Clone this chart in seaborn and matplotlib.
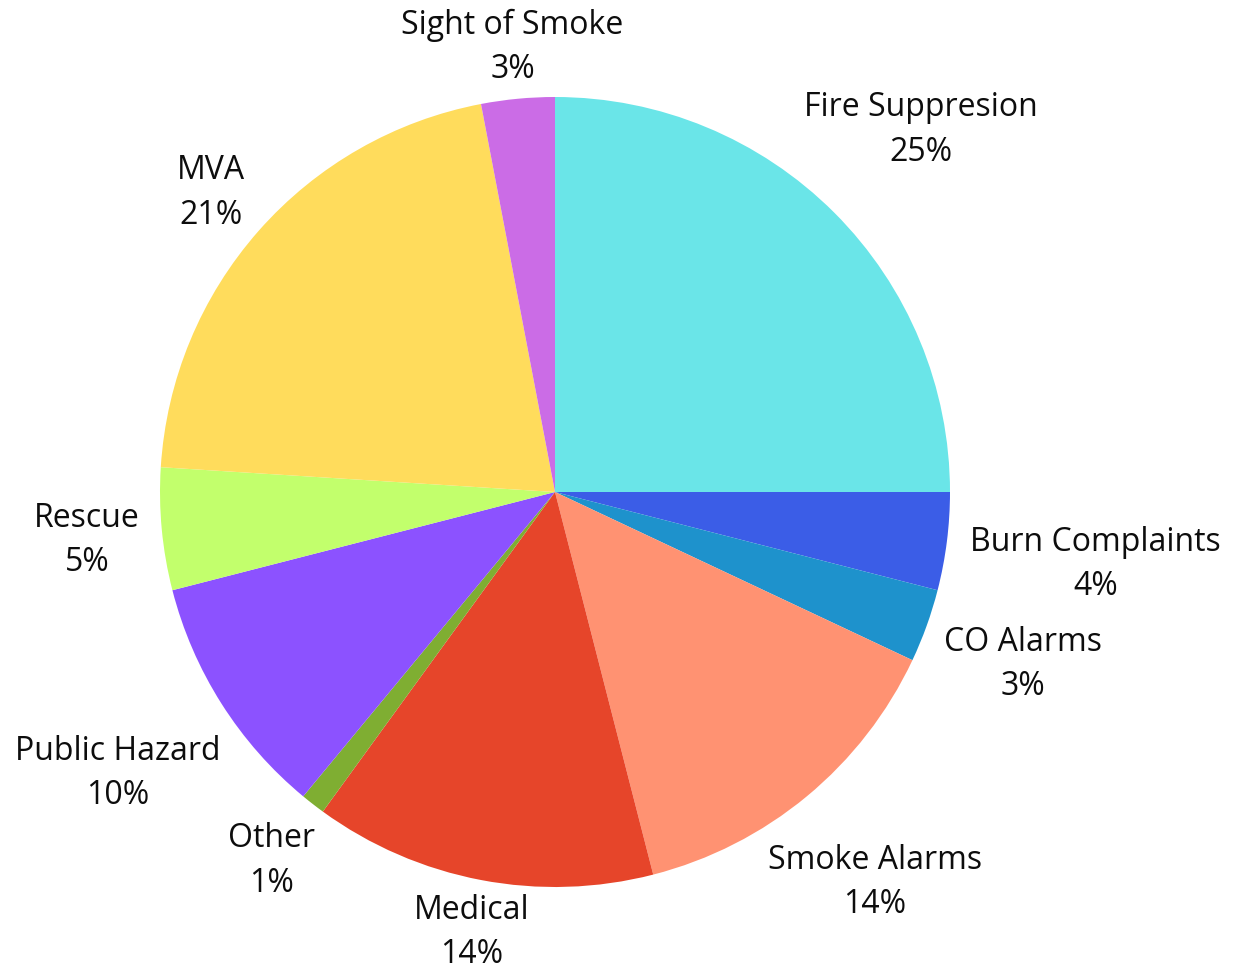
import matplotlib
matplotlib.use('Agg')
import matplotlib.pyplot as plt
import seaborn as sns
import numpy as np

# Данные
categories = ['Fire Suppresion', 'Burn Complaints', 'CO Alarms', 'Smoke Alarms', 'Medical',
              'Other', 'Public Hazard', 'Rescue', 'MVA', 'Sight of Smoke']
shares = [25, 4, 3, 14, 14, 1, 10, 5, 21, 3]
colors = ['#6ae5e8', '#3b5de7', '#1e92cc', '#ff9272', '#e6452a',
          '#7fae32', '#8c52ff', '#c2ff6c', '#ffdc5c', '#cb6ce6']

# Расстояние подписей от центра (в радиусах)
label_dist = [1.31, 1.38, 1.26, 1.27, 1.125, 1.17, 1.31, 1.19, 1.16, 1.14]

sns.set_style('white')
plt.rcParams['font.family'] = ['Open Sans', 'DejaVu Sans']

fig = plt.figure(figsize=(12.37, 9.73), dpi=100)
ax = fig.add_axes([0, 0, 1, 1])

wedges, _ = ax.pie(shares, colors=colors, startangle=90, counterclock=False,
                   wedgeprops={'linewidth': 0})

# Подписи: название и процент
for w, name, val, d in zip(wedges, categories, shares, label_dist):
    ang = np.deg2rad((w.theta1 + w.theta2) / 2)
    x, y = d * np.cos(ang), d * np.sin(ang) - 0.01
    ax.text(x, y, f'{name}\n{val}%', ha='center', va='center',
            fontsize=23, color='#0d0d0d', linespacing=1.45)

# Центр пирога в (555, 492) пикселей, радиус 395
r = 395
ax.set_xlim(-555 / r, (1237 - 555) / r)
ax.set_ylim(-(973 - 492) / r, 492 / r)
ax.set_aspect('auto')
ax.axis('off')

fig.savefig('out.png', dpi=100)
